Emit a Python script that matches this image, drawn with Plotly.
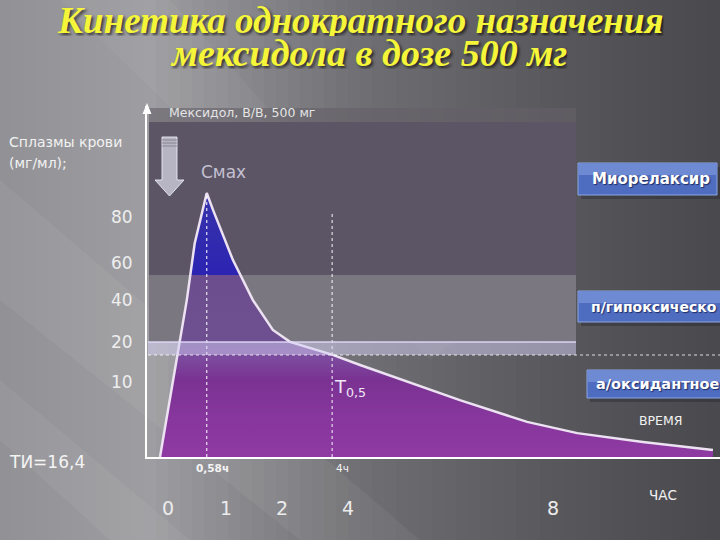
import plotly.graph_objects as go

W, H = 720, 540
L, R, T, B = 147, 0, 106, 83
PW, PH = W - L - R, H - T - B


def xp(px):
    return (px - L) / PW


def yp(py):
    return (H - B - py) / PH


# ---------------- data (schematic axis units of the slide) ----------------
curve_t = [-0.14, 0.21, 0.33, 0.47, 0.68, 0.79, 1.14, 1.49, 1.84, 2.14,
           2.89, 3.37, 5.12, 6.30, 7.18, 8.33, 9.56]
curve_c = [0.0, 32.8, 44.7, 61.0, 75.2, 70.4, 56.1, 44.7, 36.2, 32.8,
           29.1, 26.2, 16.2, 10.0, 6.8, 4.3, 2.0]
t_max = 0.68
c_max = 75.2
t_half = 2.88
t_half_top = 69.8
hour_pos = [0.0, 1.02, 2.0, 3.16, 6.75]
hour_text = ["0", "1", "2", "4", "8"]
conc_pos = [68.4, 55.3, 44.7, 32.8, 21.4]
conc_text = ["80", "60", "40", "20", "10"]
marker_pos = [0.78, 3.07]
marker_text = ["0,58ч", "4ч"]
blue_level = 51.85
effect_labels = ["Миорелаксир", "п/гипоксическо", "а/оксидантное"]

fig = go.Figure()

# concentration curve with area fill
fig.add_trace(go.Scatter(
    x=curve_t, y=curve_c, mode="lines",
    line=dict(color="#ece2f2", width=2.5),
    fill="tozeroy",
    fillgradient=dict(
        type="vertical", start=0, stop=100,
        colorscale=[
            [0.0, "#8e3aa2"], [0.12, "#86369c"], [0.22, "#7a3292"],
            [0.28, "#7c4a9e"], [0.33, "#6e5090"],
            [blue_level / 100 - 0.0005, "#6c4e8e"],
            [blue_level / 100, "#2c24b2"], [0.76, "#3834aa"], [1.0, "#3834aa"],
        ],
    ),
    hoverinfo="skip", showlegend=False,
))
# Cmax and T0.5 markers
fig.add_trace(go.Scatter(
    x=[t_max, t_max], y=[0, c_max], mode="lines",
    line=dict(color="rgba(255,255,255,0.85)", width=1.2, dash="dot"),
    hoverinfo="skip", showlegend=False,
))
fig.add_trace(go.Scatter(
    x=[t_half, t_half], y=[0, t_half_top], mode="lines",
    line=dict(color="rgba(255,255,255,0.8)", width=1.2, dash="dot"),
    hoverinfo="skip", showlegend=False,
))

shapes = []

# background gradient strips
stops = [(0, (146, 146, 150)), (150, (158, 158, 162)), (360, (112, 112, 116)),
         (560, (88, 88, 92)), (720, (74, 74, 78))]


def bg_col(px):
    for (a, ca), (b, cb) in zip(stops[:-1], stops[1:]):
        if a <= px <= b:
            f = (px - a) / (b - a)
            return tuple(int(ca[i] + (cb[i] - ca[i]) * f) for i in range(3))
    return stops[-1][1]


step = 12
for sx in range(0, W, step):
    c = bg_col(sx + step / 2)
    shapes.append(dict(type="rect", xref="paper", yref="paper", layer="below",
                       x0=xp(sx), x1=xp(sx + step + 1), y0=yp(H), y1=yp(0),
                       fillcolor=f"rgb{c}", line=dict(width=0)))
# faint diagonal streaks
for pts, a in [([(0, 180), (0, 300), (300, 540), (420, 540)], 0.05),
               ([(60, 0), (170, 0), (470, 330), (430, 360)], 0.04),
               ([(0, 380), (0, 440), (110, 540), (190, 540)], 0.05)]:
    path = "M " + " L ".join(f"{xp(x)} {yp(y)}" for x, y in pts) + " Z"
    shapes.append(dict(type="path", xref="paper", yref="paper", layer="below",
                       path=path, fillcolor=f"rgba(255,255,255,{a})",
                       line=dict(width=0)))

# plot panels
shapes.append(dict(type="rect", xref="paper", yref="paper", layer="below",
                   x0=xp(149), x1=xp(576), y0=yp(122), y1=yp(108),
                   fillcolor="rgba(100,96,104,0.6)", line=dict(width=0)))
shapes.append(dict(type="rect", xref="paper", yref="paper", layer="below",
                   x0=xp(149), x1=xp(576), y0=yp(275), y1=yp(122),
                   fillcolor="#5b5565", line=dict(width=0)))
shapes.append(dict(type="rect", xref="paper", yref="paper", layer="below",
                   x0=xp(149), x1=xp(576), y0=yp(342), y1=yp(275),
                   fillcolor="#7b7781", line=dict(width=0)))
# lavender band at 20
shapes.append(dict(type="rect", xref="paper", yref="paper", layer="above",
                   x0=xp(148), x1=xp(576), y0=yp(355), y1=yp(342),
                   fillcolor="rgba(214,208,245,0.5)", line=dict(width=0)))
shapes.append(dict(type="line", xref="paper", yref="paper", layer="above",
                   x0=xp(148), x1=xp(576), y0=yp(342), y1=yp(342),
                   line=dict(color="rgba(225,220,250,0.9)", width=1.5)))
shapes.append(dict(type="line", xref="paper", yref="paper", layer="above",
                   x0=xp(148), x1=1, y0=yp(355), y1=yp(355),
                   line=dict(color="rgba(255,255,255,0.8)", width=1, dash="dot")))

# y axis arrow head
shapes.append(dict(type="path", xref="paper", yref="paper", layer="above",
                   path=f"M {xp(142.5)} {yp(114)} L {xp(147)} {yp(103)} L {xp(151.5)} {yp(114)} Z",
                   fillcolor="white", line=dict(width=0)))

# dosing arrow
arrow_pts = [(162, 137), (177, 137), (177, 180), (184, 180), (169.5, 196),
             (155, 180), (162, 180)]
shapes.append(dict(type="path", xref="paper", yref="paper", layer="above",
                   path="M " + " L ".join(f"{xp(x)} {yp(y)}" for x, y in arrow_pts) + " Z",
                   fillcolor="rgba(200,198,212,0.85)",
                   line=dict(color="rgba(235,235,245,0.9)", width=1)))
for sy in (140, 143, 146):
    shapes.append(dict(type="line", xref="paper", yref="paper", layer="above",
                       x0=xp(162), x1=xp(177), y0=yp(sy), y1=yp(sy),
                       line=dict(color="rgba(120,118,130,0.7)", width=1)))

# effect buttons
boxes = [(578, 717, 163, 195), (578, 722, 291, 322), (587, 722, 370, 398)]
for (x0, x1, y0, y1) in boxes:
    shapes.append(dict(type="rect", xref="paper", yref="paper", layer="above",
                       x0=xp(x0 + 3), x1=xp(x1 + 3), y0=yp(y1 + 4), y1=yp(y0 + 4),
                       fillcolor="rgba(30,30,40,0.35)", line=dict(width=0)))
    shapes.append(dict(type="rect", xref="paper", yref="paper", layer="above",
                       x0=xp(x0), x1=xp(x1), y0=yp(y1), y1=yp(y0),
                       fillcolor="#4e6cc0", line=dict(color="#8ea6e2", width=1)))
    shapes.append(dict(type="rect", xref="paper", yref="paper", layer="above",
                       x0=xp(x0 + 1), x1=xp(x1 - 1), y0=yp(y0 + 12), y1=yp(y0 + 1),
                       fillcolor="rgba(150,175,235,0.45)", line=dict(width=0)))

annotations = []
FONT = "DejaVu Sans"


def txt(text, x, y, size, color="#eeeeee", xanchor="center", **kw):
    f = dict(family=kw.pop("family", FONT), size=size, color=color)
    f.update(kw.pop("font_extra", {}))
    annotations.append(dict(text=text, x=xp(x), y=yp(y), xref="paper", yref="paper",
                            xanchor=xanchor, yanchor="middle", showarrow=False,
                            font=f, **kw))


title_font = dict(style="italic", weight="bold",
                  shadow="2px 2px 3px rgba(0,0,0,0.65)")
txt("Кинетика однократного назначения", 360, 20, 37, "#f5f53a",
    family="Liberation Serif", font_extra=title_font, height=32)
txt("мексидола в дозе 500 мг", 368, 53, 38, "#f5f53a",
    family="Liberation Serif", font_extra=title_font, height=32)

txt("Мексидол, В/В, 500 мг", 167, 112, 12.5, "#e4e4e4", xanchor="left")
txt("Сплазмы крови", 7, 142, 14, "#f2f2f2", xanchor="left")
txt("(мг/мл);", 7, 163, 14, "#f2f2f2", xanchor="left")
txt("Смах", 223, 172, 17, "#c4c0d2")
txt("T<sub>0,5</sub>", 332, 388, 18, "#f0e8f6", xanchor="left")
txt("ВРЕМЯ", 660, 420, 12.5, "#f2f2f2")
txt("ЧАС", 663, 495, 13.5, "#f2f2f2")
txt("ТИ=16,4", 7, 462, 17, "#f4f4f4", xanchor="left")

# y tick labels
for v, t in zip(conc_pos, conc_text):
    annotations.append(dict(text=t, x=xp(135), y=v, xref="paper", yref="y",
                            xanchor="right", yanchor="middle", showarrow=False,
                            font=dict(family=FONT, size=17, color="#eeeeee")))
# small marker labels
for v, t in zip(marker_pos, marker_text):
    annotations.append(dict(text=t, x=v, y=yp(468), xref="x", yref="paper",
                            xanchor="center", yanchor="middle", showarrow=False,
                            font=dict(family=FONT, size=10.5, color="#f4f4f4",
                                      weight="bold" if t.startswith("0") else "normal")))
# hour labels
for v, t in zip(hour_pos, hour_text):
    annotations.append(dict(text=t, x=v, y=yp(508), xref="x", yref="paper",
                            xanchor="center", yanchor="middle", showarrow=False,
                            font=dict(family=FONT, size=19, color="#ececec")))

# effect labels
label_x = [590, 589, 594]
label_y = [179, 307, 384]
label_size = [15, 14, 14.5]
for t, lx, ly, ls in zip(effect_labels, label_x, label_y, label_size):
    txt(t, lx, ly, ls, "#ffffff", xanchor="left",
        font_extra=dict(weight="bold", shadow="1px 1px 1px rgba(0,0,40,0.6)"))

fig.update_layout(
    width=W, height=H, autosize=False,
    margin=dict(l=L, r=R, t=T, b=B, pad=0),
    paper_bgcolor="#6e6e72", plot_bgcolor="rgba(0,0,0,0)",
    shapes=shapes, annotations=annotations, showlegend=False,
    xaxis=dict(range=[-0.368, 9.684], showgrid=False, zeroline=False,
               showticklabels=False, ticks="", showline=True,
               linecolor="white", linewidth=2, fixedrange=True),
    yaxis=dict(range=[0, 100], showgrid=False, zeroline=False,
               showticklabels=False, ticks="", showline=True,
               linecolor="white", linewidth=2, fixedrange=True),
)

fig.write_html("out.html", config={"displayModeBar": False},
               post_script="document.body.style.margin='0';document.body.style.overflow='hidden';")
